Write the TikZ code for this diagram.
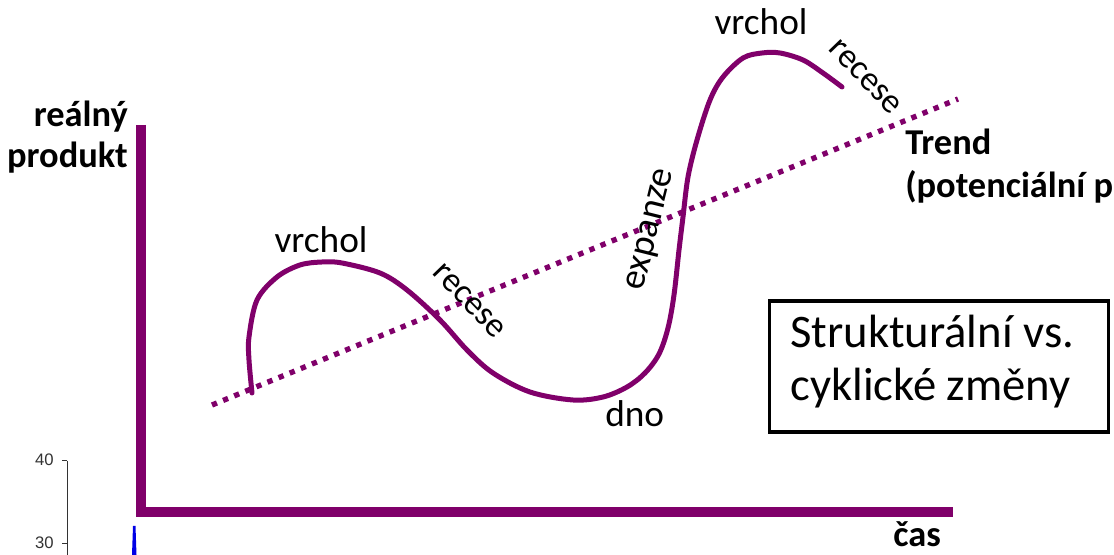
\documentclass[tikz,border=0pt]{standalone}
\usepackage{fontspec}
\setmainfont{Carlito}
\newfontfamily\arialfont{Liberation Sans}
\definecolor{curvepurple}{RGB}{128,0,106}
\definecolor{spikeblue}{RGB}{0,0,230}
\begin{document}
\begin{tikzpicture}[x=0.75pt,y=-0.75pt,
  curvelbl/.style={font=\fontsize{28}{32}\selectfont, inner sep=0pt, text=black},
  slantlbl/.style={font=\fontsize{26}{30}\selectfont, inner sep=0pt, text=black},
  boldlbl/.style={font=\fontsize{27.3}{33}\selectfont\bfseries, inner sep=0pt, text=black},
  boxtext/.style={font=\fontsize{35}{42}\selectfont, inner sep=0pt, text=black},
  ticklbl/.style={font=\arialfont\fontsize{12.5}{14}\selectfont, inner sep=0pt, text=black!80},
  axisline/.style={draw=curvepurple, line width=7.9pt, line join=miter},
  trendline/.style={draw=curvepurple, line width=4pt, line cap=butt, dash pattern=on 4pt off 5pt},
  cycleline/.style={draw=curvepurple, line width=3.75pt, line cap=round, line join=round}
]
\useasboundingbox (0,0) rectangle (1114,555);
\fill[white] (0,0) rectangle (1114,555);

% fragment of another chart (bottom left)
\coordinate (ax40) at (67,461);
\coordinate (ax30) at (67,555);
\draw[black!80, line width=0.75pt] (ax40) -- (ax30);
\draw[black!80, line width=0.75pt] (62,461) -- (ax40);
\draw[black!80, line width=0.75pt] (62,544) -- (67,544);
\node[ticklbl, anchor=east] (t40) at (54,460) {40};
\node[ticklbl, anchor=east] (t30) at (54,543) {30};
\fill[spikeblue] (133,526) -- (135.5,526) -- (136.5,555) -- (132,555) -- cycle;

% axes
\coordinate (ytop) at (141,125);
\coordinate (orig) at (141,512);
\coordinate (xend) at (953,512);
\draw[axisline] (ytop) -- (orig) -- (xend);

% trend line
\coordinate (trendA) at (212,405);
\coordinate (trendB) at (958,99);
\draw[trendline] (trendA) -- (trendB);

% business cycle curve
\draw[cycleline] plot[smooth, tension=0.55] coordinates {
 (252,393) (249,360) (249,337) (257,300) (277,277) (300,265) (322,262) (342,263)
 (380,273) (407,290) (440,320) (467,350) (493,373) (530,392) (573,400) (603,397)
 (627,387) (645,373) (659,354) (668,328) (674,295) (679,250) (683,217) (688,177) (697,140)
 (710,100) (723,77) (743,58) (762,53) (780,53) (803,60) (823,73) (842,87)};

% curve labels
\node[curvelbl, anchor=base] (vrchol1) at (321,253) {vrchol};
\node[curvelbl, anchor=base] (vrchol2) at (761,35) {vrchol};
\node[slantlbl, rotate=-46] (recese1) at (469,301) {recese};
\node[slantlbl, rotate=-46] (recese2) at (865,77) {recese};
\node[curvelbl, rotate=76] (expanze) at (652,230) {expanze};
\node[curvelbl, anchor=base west] (dno) at (605,427) {dno};

% axis labels
\node[boldlbl, anchor=base east] (yl1) at (128,127) {reálný};
\node[boldlbl, anchor=base east] (yl2) at (128,168) {produkt};
\node[boldlbl, anchor=base west] (tr1) at (905,155) {Trend};
\node[boldlbl, anchor=base west] (tr2) at (905,198) {(potenciální p};
\node[boldlbl, anchor=base west] (cas) at (893,547) {čas};

% box
\node[draw=black, line width=2.6pt, minimum width=339*0.75pt, minimum height=131*0.75pt, inner sep=0pt] (box) at (939,366.5) {};
\node[boxtext, anchor=base west] (bx1) at (790,348) {Strukturální vs.};
\node[boxtext, anchor=base west] (bx2) at (790,401) {cyklické změny};
\end{tikzpicture}
\end{document}
